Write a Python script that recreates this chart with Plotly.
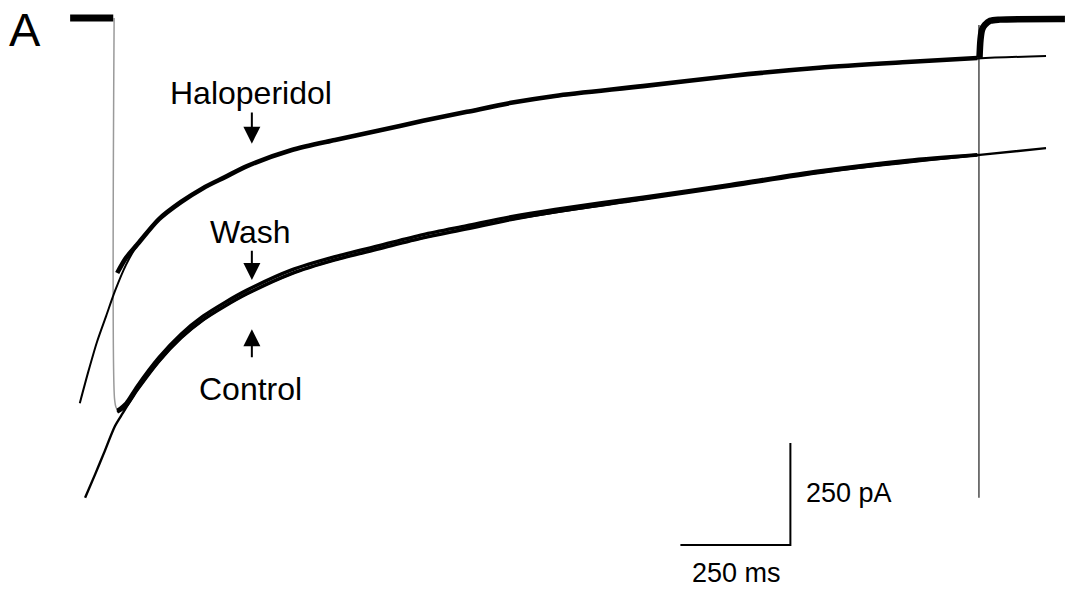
import plotly.graph_objects as go

# ---- data: time in ms (0 = onset of the depolarising step), current in pA ----
t_trace = [5, 25, 50, 100, 150, 200, 250, 300, 400, 500, 600, 700, 800, 900,
           1000, 1200, 1400, 1600, 1800, 1960]
haloperidol = [-625, -588, -556, -493, -451, -417, -390, -363, -324, -299, -276,
               -252, -230, -208, -191, -167, -142, -122, -108, -98]
control = [-966, -951, -912, -841, -784, -740, -706, -676, -627, -593, -566,
           -539, -517, -494, -475, -444, -412, -379, -352, -336]
wash = [-962, -944, -903, -832, -775, -731, -697, -667, -618, -585, -558,
        -531, -509, -487, -469, -439, -408, -375, -349, -335]

# exponential fits
t_fit_hal = [-80, -61, -41, -20, 0, 25, 50, 100, 150, 200, 300, 400, 500, 700,
             900, 1200, 1600, 1960, 2116]
fit_hal = [-944, -868, -794, -730, -669, -605, -558, -494, -452, -418, -364,
           -324, -299, -252, -208, -167, -122, -99, -93]
t_fit_ctl = [-68, -45, -25, 0, 18, 50, 100, 150, 200, 300, 400, 500, 700, 900,
             1200, 1600, 1960, 2116]
fit_ctl = [-1176, -1118, -1066, -1000, -968, -912, -841, -784, -740, -676, -627,
           -593, -539, -494, -444, -379, -336, -319]

# holding current before the step and after the step back
t_pre = [-102, -4]
i_pre = [0, 0]
t_on = [-2, -1, 3, 11]
i_on = [0, -934, -956, -966]
t_off = [1963.5, 1963.5]
i_off = [-1176, -17]
t_post = [1964.8, 1967, 1970.5, 1977, 1989, 2011, 2159]
i_post = [-98, -54, -29, -17, -7, -4, -2.5]

# scale bars
bar_t0, bar_len_ms = 1285, 250
bar_i0, bar_len_pa = -1292, 250

# ---- figure ----
T_MIN, T_MAX = -261.4, 2161.4
I_MIN, I_MAX = -1406.9, 44.1
FONT = "Liberation Sans, Arial, Helvetica, sans-serif"

fig = go.Figure()

def line(x, y, width, color="black"):
    fig.add_trace(go.Scatter(x=x, y=y, mode="lines", hoverinfo="skip",
                             line=dict(color=color, width=width, shape="spline",
                                       smoothing=0.8)))

line(t_on, i_on, 1.5, "#9a9a9a")
line(t_off, i_off, 1.6, "#555555")
line(t_fit_hal, fit_hal, 2.0)
line(t_fit_ctl, fit_ctl, 2.4)
line(t_pre, i_pre, 7)
line(t_post, i_post, 6.5)
line(t_trace, haloperidol, 4.6)
line(t_trace, control, 3.4)
line(t_trace, wash, 3.4)

# scale bars
fig.add_trace(go.Scatter(
    x=[bar_t0, bar_t0 + bar_len_ms, bar_t0 + bar_len_ms],
    y=[bar_i0, bar_i0, bar_i0 + bar_len_pa],
    mode="lines", hoverinfo="skip", line=dict(color="black", width=2)))

def label(text, x, y, size=32, xanchor="center"):
    fig.add_annotation(x=x, y=y, text=text, showarrow=False, xanchor=xanchor,
                       yanchor="middle", font=dict(family=FONT, size=size, color="black"))

def arrow(x, tip, tail):
    fig.add_annotation(x=x, y=tip, ax=x, ay=tail, axref="x", ayref="y", text="",
                       showarrow=True, arrowhead=2, arrowsize=1.7, arrowwidth=2.0,
                       arrowcolor="black")

label("A", -204, -28, size=47)
label("Haloperidol", 309, -184)
arrow(311, -308, -228)
label("Wash", 309, -524)
arrow(311, -642, -567)
arrow(311, -763, -835)
label("Control", 309, -910)
label("250 pA", 1566, -1164, size=27, xanchor="left")
label("250 ms", 1412, -1360, size=27)

fig.update_layout(
    width=1066, height=592, margin=dict(l=0, r=0, t=0, b=0),
    paper_bgcolor="white", plot_bgcolor="white", showlegend=False,
    xaxis=dict(range=[T_MIN, T_MAX], visible=False, fixedrange=True),
    yaxis=dict(range=[I_MIN, I_MAX], visible=False, fixedrange=True),
)

fig.write_html("out.html")
